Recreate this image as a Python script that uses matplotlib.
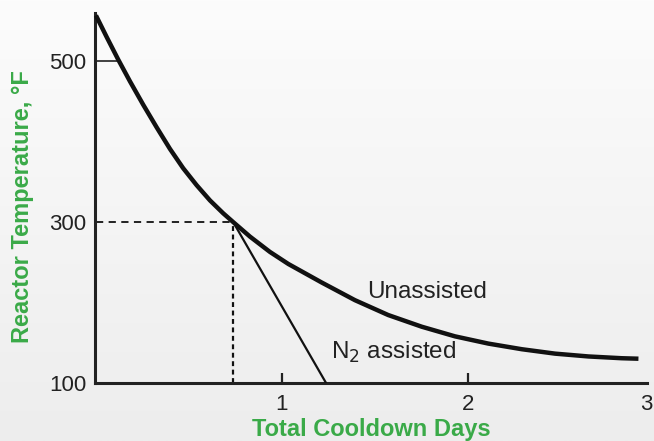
import numpy as np
import matplotlib
matplotlib.use("Agg")
import matplotlib.pyplot as plt
from matplotlib.colors import LinearSegmentedColormap

# Data
unassisted_days = [0.0, 0.058, 0.120, 0.183, 0.254, 0.326, 0.398, 0.469, 0.541,
                   0.613, 0.684, 0.738, 0.828, 0.935, 1.034, 1.213, 1.392, 1.571,
                   1.751, 1.930, 2.109, 2.289, 2.468, 2.647, 2.826, 2.916]
unassisted_temp = [557, 530, 502, 475, 446, 418, 391, 367, 346,
                   327, 311, 300, 282, 263, 248, 225, 203, 184.5,
                   170, 158, 149, 142, 136.5, 133, 130.8, 130.2]
n2_days = [0.738, 1.237]
n2_temp = [300, 100]
marker_day = 0.738
marker_temp = 300
y_ticks = [100, 300, 500]
y_tick_labels = ["100", "300", "500"]
x_ticks = [1, 2, 2.96]
x_tick_labels = ["1", "2", "3"]

plt.rcParams['font.family'] = ['Liberation Sans', 'DejaVu Sans']
dark = '#222222'
green = '#3aaa48'

fig = plt.figure(figsize=(6.54, 4.41), dpi=100)
# background gradient
bg = fig.add_axes([0, 0, 1, 1], zorder=-10)
grad = np.linspace(0, 1, 256).reshape(-1, 1)
cmap = LinearSegmentedColormap.from_list('bg', ['#fcfcfc', '#ededed'])
bg.imshow(grad, aspect='auto', cmap=cmap, extent=[0, 1, 0, 1])
bg.axis('off')

W, H = 654, 441
x0, x1 = 95, 647
y0, y1 = 383, 13
ax = fig.add_axes([x0 / W, 1 - y0 / H, (x1 - x0) / W, (y0 - y1) / H])
ax.patch.set_alpha(0)
ax.set_xlim(-0.005, 2.962)
ax.set_ylim(100, 560)

ax.plot(unassisted_days, unassisted_temp, color='#111111', lw=3.2,
        solid_capstyle='butt', solid_joinstyle='round', clip_on=False, zorder=4)
ax.plot(n2_days, n2_temp, color='#111111', lw=1.6, zorder=3)
ax.plot([0, marker_day], [marker_temp, marker_temp], color='#111111', lw=1.3,
        dashes=(4, 3), zorder=2)
ax.plot([marker_day, marker_day], [100, marker_temp], color='#111111', lw=1.6,
        dashes=(2.2, 1.6), zorder=2)

for s in ['top', 'right']:
    ax.spines[s].set_visible(False)
for s in ['left', 'bottom']:
    ax.spines[s].set_linewidth(2.2)
    ax.spines[s].set_color('#222222')

ax.set_yticks(y_ticks, y_tick_labels)
ax.set_xticks(x_ticks, x_tick_labels)
ax.tick_params(axis='y', direction='in', length=16, width=1.2, colors=dark,
               labelsize=16, pad=6)
ax.tick_params(axis='x', direction='in', length=7, width=1.6, colors=dark,
               labelsize=16, pad=8)
# hide tick marks at 100 and 300 (y) and at 3 (x)
yt = ax.yaxis.get_major_ticks()
yt[0].tick1line.set_visible(False)
yt[1].tick1line.set_visible(False)
ax.xaxis.get_major_ticks()[2].tick1line.set_visible(False)

ax.set_ylabel('Reactor Temperature, °F', color=green, fontsize=17,
              fontweight='bold')
ax.yaxis.set_label_coords(-0.11, 0.476)
ax.set_xlabel('Total Cooldown Days', color=green, fontsize=17,
              fontweight='bold', labelpad=2)

ax.text(1.46, 206, 'Unassisted', fontsize=17.5, color=dark, ha='left', va='baseline')
ax.text(1.263, 130, 'N$_2$ assisted', fontsize=17.5, color=dark, ha='left',
        va='baseline')

fig.savefig('out.png', dpi=100)
